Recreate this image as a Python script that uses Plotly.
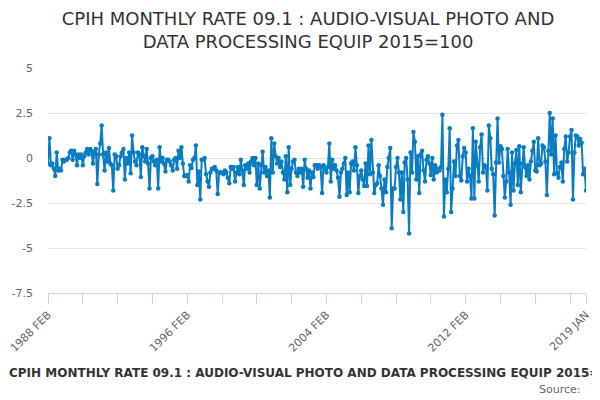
import plotly.graph_objects as go

MONTHS = ["JAN", "FEB", "MAR", "APR", "MAY", "JUN",
          "JUL", "AUG", "SEP", "OCT", "NOV", "DEC"]

# monthly rate (%), one row per calendar year; 1988 starts in FEB, 2019 has JAN only
rates_by_year = {
    1988: [-0.3, 1.1, -0.4, -0.3, -0.6, -1.0, 0.3, -0.7, -0.6, -0.7, -0.1],
    1989: [-0.2, -0.1, -0.1, 0.0, 0.3, 0.4, -0.1, 0.4, 0.2, -0.4, 0.2, 0.0],
    1990: [0.2, -0.4, 0.1, 0.3, 0.5, 0.2, 0.5, 0.4, -0.3, 0.3, 0.5, -1.45],
    1991: [0.2, 0.8, 1.8, 0.2, -0.7, 0.3, -0.2, 0.55, -0.3, -0.4, -1.8, 0.2],
    1992: [0.1, -0.6, -0.4, 0.1, 0.3, 0.5, -1.2, 0.0, -0.3, 0.3, -0.85, 1.25],
    1993: [0.3, -0.2, -0.4, 0.3, 0.2, -1.05, 0.6, 0.1, -0.2, 0.5, -0.3, -1.7],
    1994: [0.0, 0.1, -0.2, -0.4, -0.1, -1.7, 0.6, -0.2, 0.0, -0.3, -0.75, -0.1],
    1995: [-0.1, -0.2, -0.4, -0.7, -0.1, 0.0, -0.6, 0.4, 0.0, 0.6, -0.3, -1.0],
    1996: [-1.0, -0.95, -1.3, -0.4, -0.55, -0.1, 0.0, 0.7, -1.5, -0.75, -2.3, -0.1],
    1997: [-0.1, 0.0, -0.9, -1.3, -1.6, -0.8, -0.6, -0.6, -0.5, -0.7, -2.0, -0.8],
    1998: [-0.8, -0.8, -0.9, -0.7, -0.8, -1.1, -1.4, -0.5, -0.6, -0.5, -1.3, -0.8],
    1999: [-0.5, -0.9, -0.1, -0.7, -1.5, -0.4, -0.6, -0.3, -0.8, -0.2, 0.0, -0.4],
    2000: [0.0, -1.5, -0.3, -1.7, -0.4, 0.35, -0.8, -0.5, -1.0, -0.7, -2.2, 1.1],
    2001: [-0.8, 0.8, 0.1, -0.3, 0.0, -0.5, -0.2, -0.8, -1.2, 0.1, -1.9, 0.6],
    2002: [-1.5, -0.6, -0.2, -0.1, -0.8, -1.0, -0.6, -0.8, -0.6, -1.6, -0.1, -0.6],
    2003: [-1.1, -0.7, -1.7, -0.8, -1.05, -0.4, -0.4, -0.6, -0.4, -0.5, -1.95, -0.4],
    2004: [-0.6, -0.8, -0.5, 0.8, -1.3, -0.1, -0.6, -0.4, -0.7, -1.1, -2.15, -0.8],
    2005: [-0.6, -0.3, 0.0, -2.05, -0.8, -1.9, -0.3, -0.2, -0.7, 0.6, -0.4, -1.95],
    2006: [-1.0, -0.7, -1.2, -1.55, -0.3, -1.55, 0.7, -0.9, 1.0, -0.8, -1.95, -1.5],
    2007: [-1.4, -0.4, -1.0, -1.7, -2.6, -1.2, -1.9, -0.5, 0.0, 0.55, -3.9, -1.7],
    2008: [-1.7, -0.5, 0.0, -0.8, -2.3, -0.8, -3.0, -0.25, 0.0, -1.2, -4.2, 0.3],
    2009: [-0.8, 1.45, 0.9, -1.2, 0.1, -1.95, 0.2, 0.4, -0.7, -1.3, -0.1, 0.1],
    2010: [-0.3, -0.95, 0.0, -1.2, -0.4, -0.8, -0.6, -0.7, -0.5, 2.4, -3.25, -1.2],
    2011: [-1.9, -0.6, 1.65, -3.0, -1.7, -0.2, -1.0, 0.7, 1.0, -1.0, -1.25, 0.1],
    2012: [0.55, 0.3, -1.3, -0.6, -1.0, -2.25, 1.65, -2.25, 0.9, -0.4, -1.3, 0.6],
    2013: [1.3, -0.8, -0.4, -0.5, -1.8, 1.8, 1.1, -0.6, -0.9, -3.2, -0.25, 2.2],
    2014: [-0.25, 0.65, 0.5, -1.0, -2.2, -1.3, 0.5, -0.8, -2.6, 0.3, -1.8, -0.3],
    2015: [0.45, -1.5, 0.65, -1.9, -0.3, 0.6, -0.5, -1.0, -0.4, -1.2, -0.2, 0.4],
    2016: [0.9, -0.7, -0.75, 1.1, -0.4, -0.3, 0.7, 0.6, -0.2, -2.05, 0.4, 2.5],
    2017: [0.2, 2.2, -0.9, 1.25, -0.85, -1.1, -0.5, -0.25, -1.3, 0.5, 1.2, -0.2],
    2018: [0.3, 1.2, 1.55, -2.3, 0.3, 1.25, 1.2, 0.7, 1.05, 0.85, -0.9, -0.6],
    2019: [-1.8],
}

labels = []
values = []
for year, vals in rates_by_year.items():
    start = 1 if year == 1988 else 0
    for k, v in enumerate(vals):
        labels.append(f"{year} {MONTHS[start + k]}")
        values.append(v)

# tick marks every two years, text only on a few of them
tick_vals = labels[::24] + [labels[-1]]
shown = {"1988 FEB", "1996 FEB", "2004 FEB", "2012 FEB", "2019 JAN"}
tick_text = [t if t in shown else "" for t in tick_vals]

y_ticks = [5, 2.5, 0, -2.5, -5, -7.5]

title = "CPIH MONTHLY RATE 09.1 : AUDIO-VISUAL PHOTO AND DATA PROCESSING EQUIP 2015=100"

fig = go.Figure()
fig.add_trace(go.Scatter(
    x=labels,
    y=values,
    mode="lines+markers",
    line=dict(color="#0a7cc1", width=2),
    marker=dict(color="#0a7cc1", size=4.5),
    showlegend=False,
))

# the page body adds an 8px offset, so margins are trimmed by that much
fig.update_layout(
    width=600,
    height=400,
    margin=dict(l=40, r=22, t=60, b=115),
    paper_bgcolor="white",
    plot_bgcolor="white",
    font=dict(family="DejaVu Sans", color="#666666"),
    title=dict(
        text="CPIH MONTHLY RATE 09.1 : AUDIO-VISUAL PHOTO AND<br>DATA PROCESSING EQUIP 2015=100",
        x=0.5, xanchor="center", y=0.958, yanchor="middle",
        font=dict(size=18, color="#333333"),
    ),
    xaxis=dict(
        type="category",
        range=[0, len(labels) - 1],
        tickmode="array",
        tickvals=tick_vals,
        ticktext=tick_text,
        tickangle=-45,
        ticks="outside",
        ticklen=10,
        tickcolor="#ccd6eb",
        showline=True,
        linecolor="#ccd6eb",
        showgrid=False,
        automargin=False,
        tickfont=dict(size=11, color="#666666"),
    ),
    yaxis=dict(
        range=[-7.5, 5],
        tickvals=y_ticks,
        ticktext=[str(t) for t in y_ticks],
        gridcolor="#e6e6e6",
        zeroline=False,
        automargin=False,
        tickfont=dict(size=11, color="#666666"),
        ticklabelstandoff=14,
    ),
    annotations=[
        dict(text="<b>" + title + "</b>", xref="paper", yref="paper",
             x=-0.0756, y=-0.355, xanchor="left", yanchor="middle",
             showarrow=False,
             font=dict(size=12, color="#333333", family="DejaVu Sans")),
        dict(text="Source: ", xref="paper", yref="paper", x=1.0, y=-0.43,
             xanchor="right", yanchor="middle", showarrow=False,
             font=dict(size=11, color="#666666")),
    ],
)

fig.write_html("out.html")
